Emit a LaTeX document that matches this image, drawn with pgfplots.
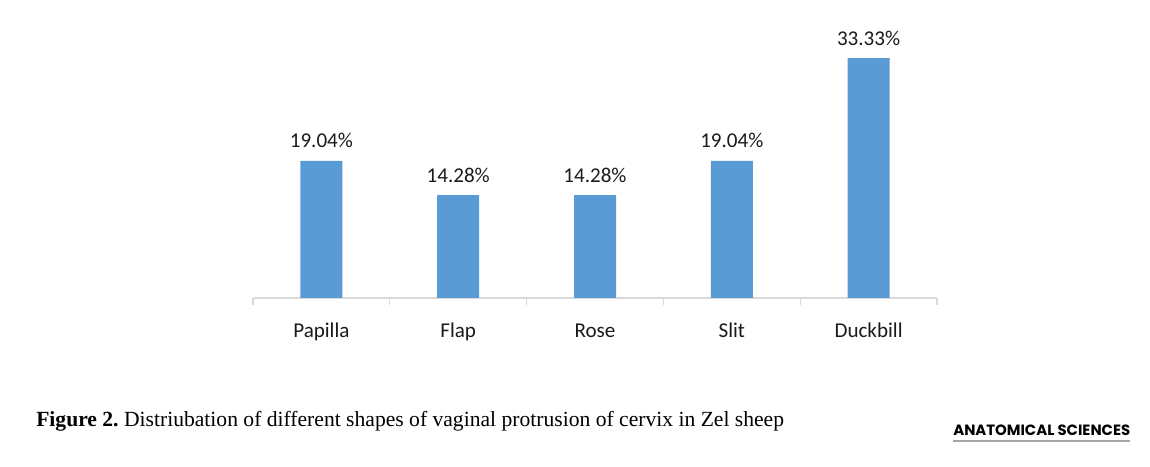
\documentclass[border=0pt]{standalone}
\usepackage{pgfplots}
\pgfplotsset{compat=1.18}
\usepackage{fontspec}
\setmainfont{Carlito}
\newfontfamily\capfont{Liberation Serif}
\newfontfamily\logofont{Poppins}
\definecolor{barblue}{HTML}{5B9BD5}
\definecolor{axgray}{HTML}{D9D9D9}
\definecolor{txt}{HTML}{1A1A1A}
\pgfplotstableread{
x y lab
0 19.04 19.04\%
1 14.28 14.28\%
2 14.28 14.28\%
3 19.04 19.04\%
4 33.33 33.33\%
}\shapes
\frenchspacing
\begin{document}
\begin{tikzpicture}
\path[use as bounding box] (0,0) rectangle (862.5pt,350.25pt);
\begin{axis}[
  at={(189.75pt,126.75pt)}, anchor=south west,
  scale only axis, width=513pt, height=216pt,
  xmin=-0.5, xmax=4.5, ymin=0, ymax=40,
  axis y line=none,
  axis x line*=bottom,
  x axis line style={axgray, line width=1pt, -},
  xtick={0,1,2,3,4},
  xticklabels={Papilla,Flap,Rose,Slit,Duckbill},
  major x tick style={draw=none},
  extra x ticks={-0.5,0.5,1.5,2.5,3.5,4.5},
  extra x tick labels={},
  extra x tick style={major tick length=5.5pt, tick align=outside, major x tick style={draw=axgray, line width=1pt}},
  xticklabel style={font=\fontsize{15.8}{18}\selectfont, text=txt, anchor=base, yshift=-25.25pt},
  ybar, bar width=31.5pt,
  nodes near coords,
  point meta=explicit symbolic,
  every node near coord/.append style={font=\fontsize{15.8}{18}\selectfont, text=txt, anchor=base, yshift=9.75pt},
  clip=false,
]
\addplot[fill=barblue, draw=none] table[x=x, y=y, meta=lab] {\shapes};
\end{axis}
\node[anchor=base west, inner sep=0] at (27pt,30pt) {\capfont\fontsize{16.2}{19}\selectfont\textbf{Figure 2.} Distriubation of different shapes of vaginal protrusion of cervix in Zel sheep};
\node[anchor=base west, inner sep=0] at (714.75pt,23.25pt) {\resizebox{132.75pt}{!}{\logofont\bfseries ANATOMICAL SCIENCES}};
\draw[gray!70, line width=1.2pt] (714.75pt,19.5pt) -- (847.5pt,19.5pt);
\end{tikzpicture}
\end{document}
